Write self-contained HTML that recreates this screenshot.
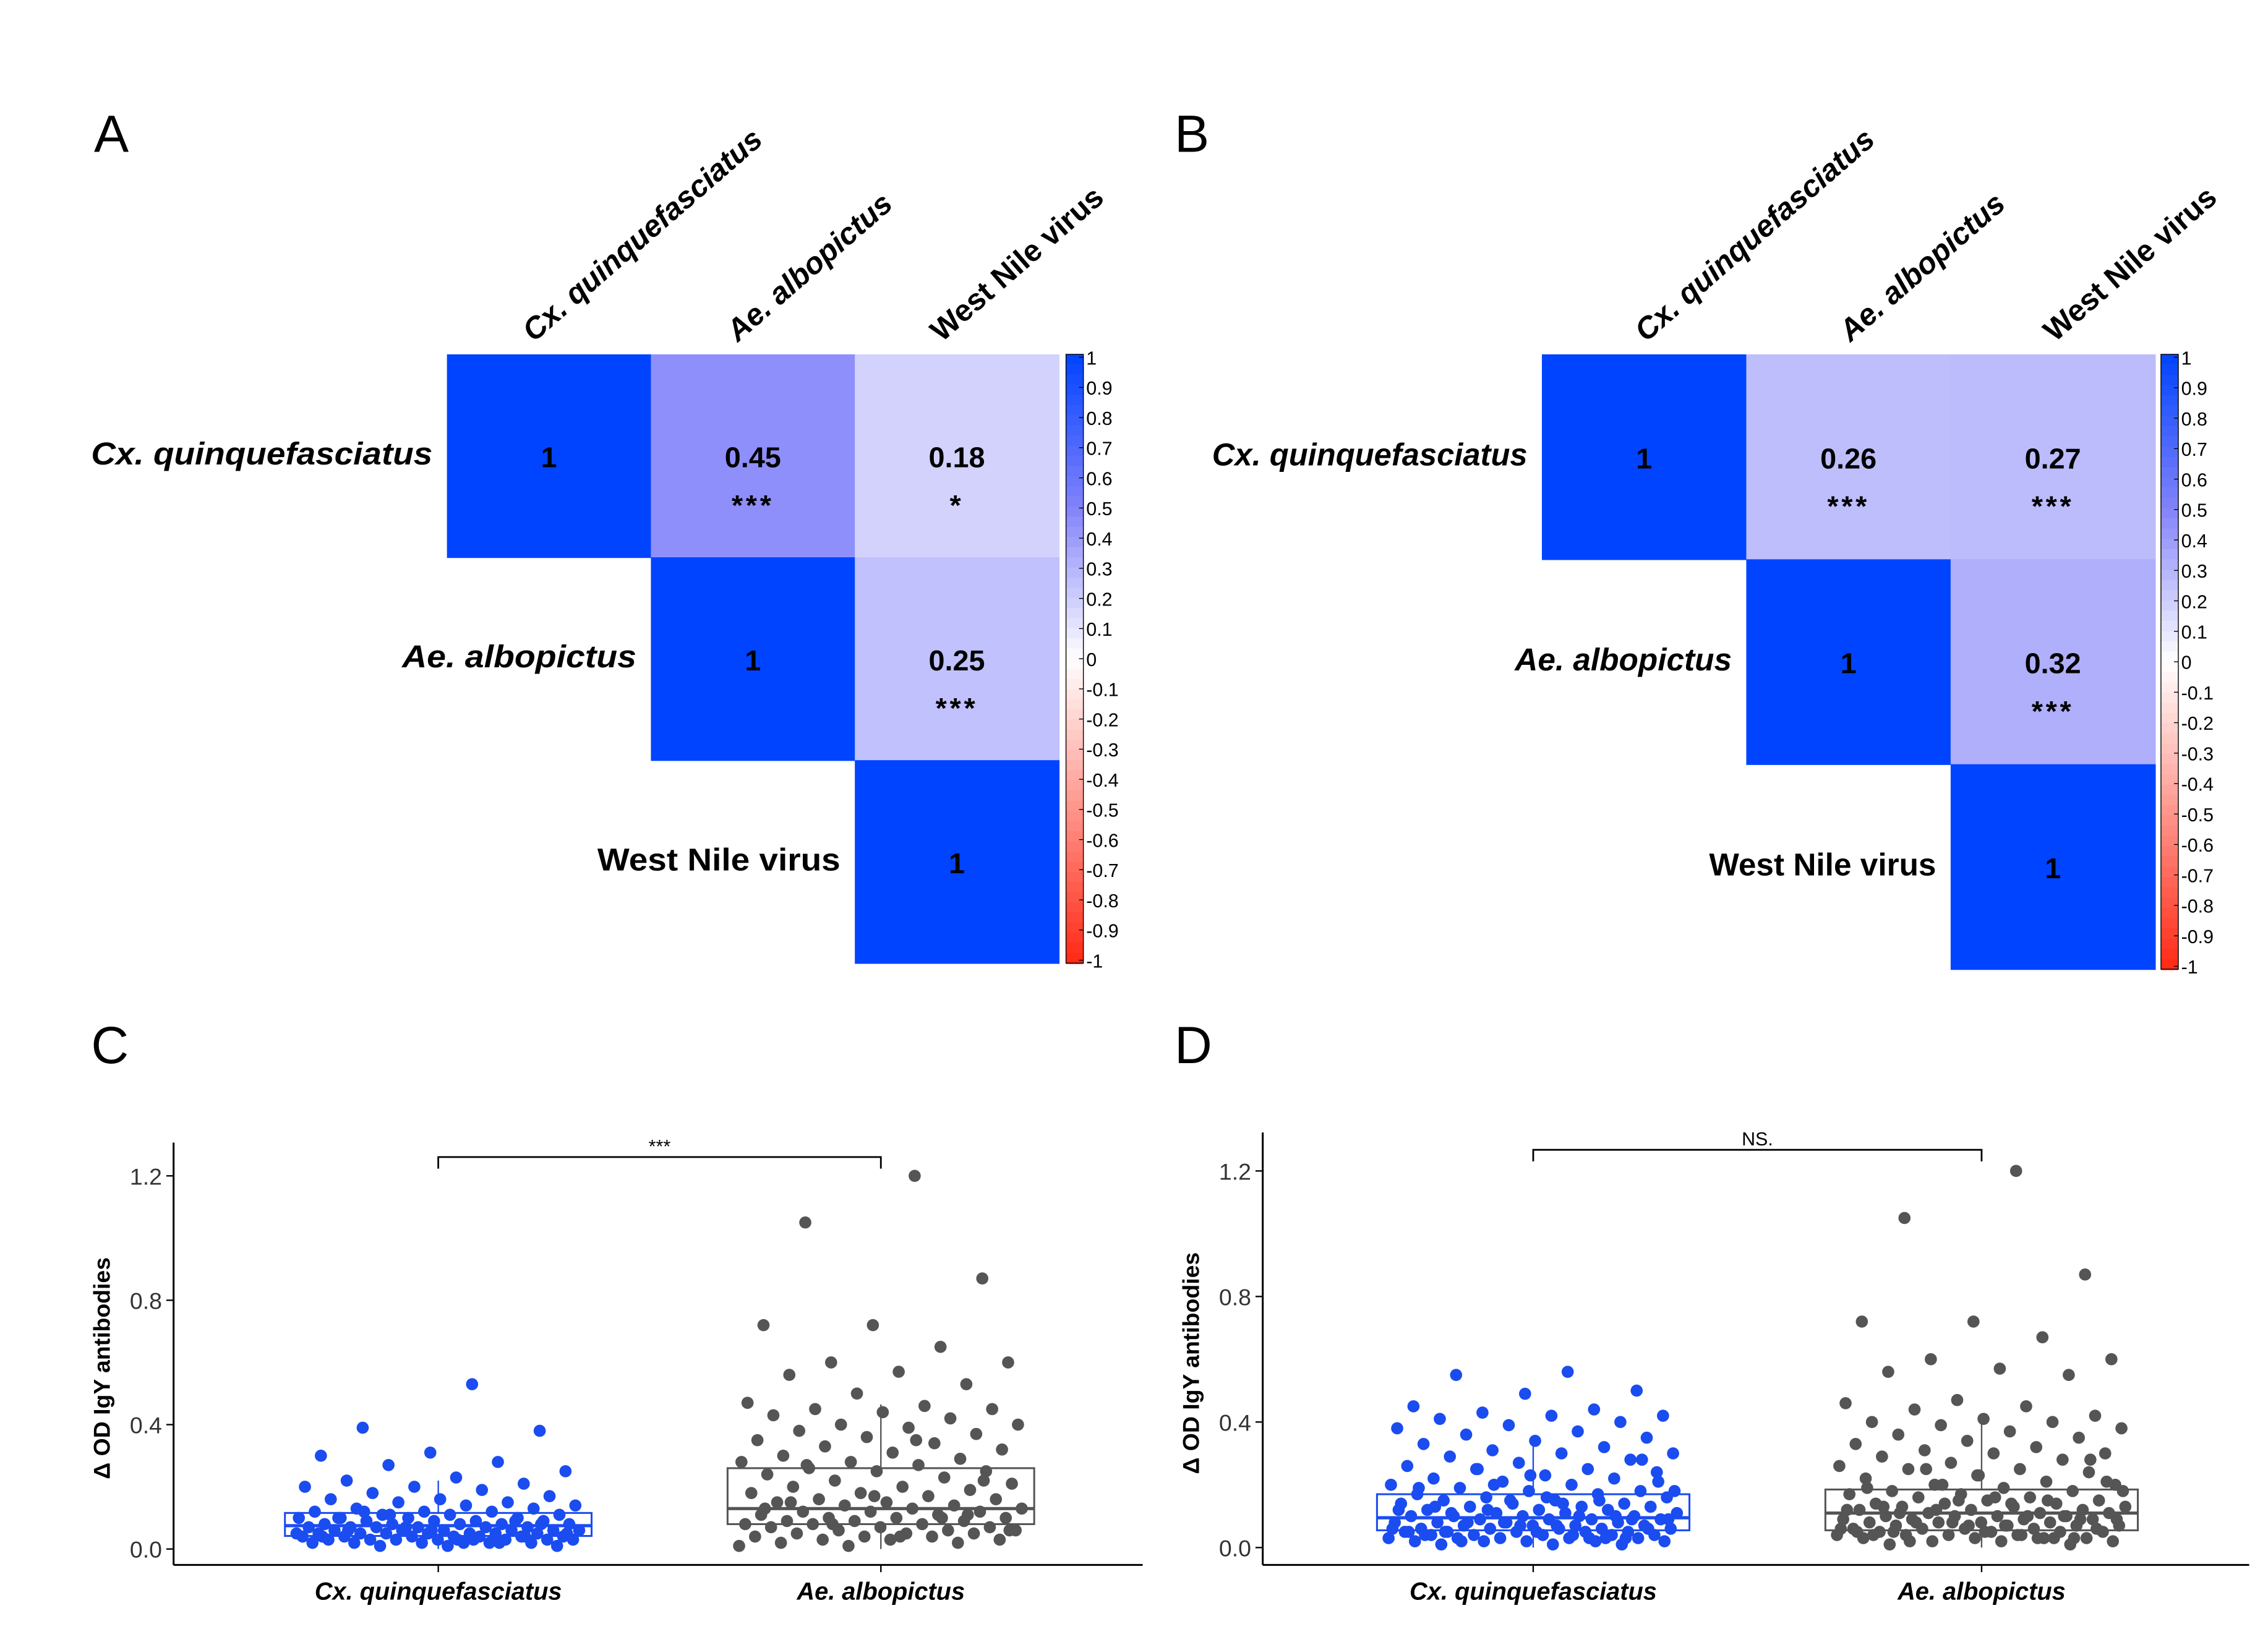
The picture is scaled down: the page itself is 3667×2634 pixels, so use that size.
<!DOCTYPE html>
<html><head><meta charset="utf-8"><style>
html,body{margin:0;padding:0;background:#fff;}
svg{display:block;font-family:"Liberation Sans",Arial,sans-serif;}
</style></head><body>
<svg id="fig" width="3667" height="2634" viewBox="0 0 1568 1126.3" xmlns="http://www.w3.org/2000/svg"></svg>
<script>
// ---------- DATA ----------
const species = ["Cx. quinquefasciatus","Ae. albopictus","West Nile virus"];
const corrA = [[1,0.45,0.18],[null,1,0.25],[null,null,1]];
const sigA  = [["","***","*"],["","","***"],["","",""]];
const corrB = [[1,0.26,0.27],[null,1,0.32],[null,null,1]];
const sigB  = [["","***","***"],["","","***"],["","",""]];
const cbTicks = ["1","0.9","0.8","0.7","0.6","0.5","0.4","0.3","0.2","0.1","0","-0.1","-0.2","-0.3","-0.4","-0.5","-0.6","-0.7","-0.8","-0.9","-1"];
const boxCats = ["Cx. quinquefasciatus","Ae. albopictus"];
const yTicks = [0.0,0.4,0.8,1.2];
// box stats: [lowWhisker, q1, median, q3, highWhisker]
const boxC = [[0.0,0.042,0.075,0.116,0.22],[0.0,0.08,0.13,0.26,0.465]];
const boxD = [[0.0,0.055,0.095,0.17,0.33],[0.0,0.055,0.11,0.185,0.41]];
const ptsC_cx = [0.53,0.39,0.38,0.31,0.3,0.28,0.27,0.25,0.23,0.22,0.21,0.2,0.2,0.19,0.18,0.17,0.16,0.16,0.15,0.15,0.14,0.14,0.13,0.13,0.12,0.12,0.12,0.11,0.11,0.11,0.1,0.1,0.1,0.1,0.09,0.09,0.09,0.09,0.08,0.08,0.08,0.08,0.08,0.07,0.07,0.07,0.07,0.07,0.07,0.06,0.06,0.06,0.06,0.06,0.06,0.05,0.05,0.05,0.05,0.05,0.05,0.05,0.04,0.04,0.04,0.04,0.04,0.04,0.04,0.03,0.03,0.03,0.03,0.03,0.03,0.03,0.02,0.02,0.02,0.02,0.02,0.02,0.01,0.01,0.01,0.1,0.09,0.07,0.05,0.03,0.12,0.08,0.06,0.04,0.02,0.11,0.05,0.03,0.06,0.04];
const ptsC_ae = [1.2,1.05,0.87,0.72,0.72,0.65,0.6,0.6,0.57,0.56,0.53,0.5,0.47,0.46,0.45,0.45,0.44,0.43,0.42,0.4,0.4,0.39,0.38,0.37,0.36,0.35,0.34,0.33,0.32,0.31,0.3,0.29,0.28,0.28,0.27,0.26,0.25,0.25,0.24,0.23,0.22,0.21,0.2,0.2,0.19,0.18,0.18,0.17,0.16,0.16,0.15,0.15,0.14,0.14,0.13,0.13,0.12,0.12,0.12,0.11,0.11,0.1,0.1,0.1,0.09,0.09,0.09,0.08,0.08,0.08,0.07,0.07,0.07,0.06,0.06,0.06,0.05,0.05,0.05,0.04,0.04,0.04,0.03,0.03,0.03,0.02,0.02,0.01,0.01,0.35,0.27,0.22,0.17,0.13,0.1,0.08,0.06,0.04,0.15,0.11];
const ptsD_cx = [0.56,0.55,0.5,0.49,0.45,0.44,0.43,0.42,0.42,0.41,0.4,0.39,0.38,0.37,0.36,0.35,0.34,0.33,0.32,0.31,0.3,0.3,0.29,0.28,0.27,0.26,0.25,0.25,0.24,0.23,0.22,0.22,0.21,0.2,0.2,0.19,0.18,0.18,0.17,0.17,0.16,0.16,0.15,0.15,0.14,0.14,0.14,0.13,0.13,0.13,0.12,0.12,0.12,0.11,0.11,0.11,0.1,0.1,0.1,0.1,0.09,0.09,0.09,0.09,0.08,0.08,0.08,0.08,0.07,0.07,0.07,0.07,0.06,0.06,0.06,0.06,0.06,0.05,0.05,0.05,0.05,0.05,0.04,0.04,0.04,0.04,0.04,0.03,0.03,0.03,0.03,0.03,0.02,0.02,0.02,0.02,0.02,0.01,0.01,0.01,0.15,0.12,0.1,0.08,0.06,0.05,0.04,0.03,0.2,0.18,0.14,0.11,0.09,0.07,0.05,0.03,0.25,0.21,0.16,0.13,0.1,0.08,0.06,0.04,0.02,0.28,0.23,0.19,0.15,0.12,0.09,0.07,0.05,0.03];
const ptsD_ae = [1.2,1.05,0.87,0.72,0.72,0.67,0.6,0.6,0.57,0.56,0.55,0.47,0.46,0.45,0.44,0.42,0.41,0.4,0.4,0.39,0.38,0.37,0.36,0.35,0.34,0.33,0.32,0.31,0.3,0.3,0.29,0.28,0.27,0.26,0.25,0.25,0.24,0.23,0.22,0.21,0.2,0.2,0.19,0.18,0.18,0.17,0.17,0.16,0.16,0.15,0.15,0.14,0.14,0.14,0.13,0.13,0.13,0.12,0.12,0.12,0.11,0.11,0.11,0.1,0.1,0.1,0.1,0.09,0.09,0.09,0.09,0.08,0.08,0.08,0.08,0.07,0.07,0.07,0.07,0.06,0.06,0.06,0.06,0.05,0.05,0.05,0.05,0.04,0.04,0.04,0.04,0.03,0.03,0.03,0.03,0.02,0.02,0.02,0.01,0.01,0.15,0.12,0.1,0.08,0.06,0.05,0.04,0.03,0.2,0.18,0.14,0.11,0.09,0.07,0.05,0.03,0.25,0.21,0.16,0.13,0.1,0.08,0.06,0.04,0.02,0.28,0.23,0.19,0.15,0.12,0.09,0.07,0.05,0.03];

// ---------- HELPERS ----------
const NS="http://www.w3.org/2000/svg";
const svg=document.getElementById('fig');
function mk(tag,attrs,parent,text){const e=document.createElementNS(NS,tag);for(const k in attrs)e.setAttribute(k,attrs[k]);if(text!==undefined)e.textContent=text;(parent||svg).appendChild(e);return e;}
function lerp(a,b,t){return Math.round(a+(b-a)*t);}
function corrColor(v){
  if(v>=0){let c0,c1,t;
    if(v<=0.5){c0=[255,255,255];c1=[130,130,250];t=v/0.5;}else{c0=[130,130,250];c1=[0,68,255];t=(v-0.5)/0.5;}
    return `rgb(${lerp(c0[0],c1[0],t)},${lerp(c0[1],c1[1],t)},${lerp(c0[2],c1[2],t)})`;}
  const t=-v;return `rgb(255,${lerp(255,40,t)},${lerp(255,20,t)})`;
}

// ---------- HEATMAPS ----------
function heatmap(name,letter,lx,x0,y0,cw,ch,corr,sig,cbx,colLabelOff,rowLens){
  const g=mk('g',{});
  
  
  const L=mk('text',{x:lx,y:105,'font-size':36},g,letter);
  
  
  for(let r=0;r<3;r++)for(let c=r;c<3;c++){
    const v=corr[r][c];
    const cell=mk('rect',{x:x0+c*cw,y:y0+r*ch,width:cw+0.5,height:ch+0.5,fill:corrColor(v)},g);
    
    
    const cx=x0+c*cw+cw/2, cy=y0+r*ch+ch/2;
    const t=mk('text',{x:cx,y:cy+8,'text-anchor':'middle','font-size':20,'font-weight':'bold'},g,String(v));
    
    
    if(sig[r][c]){const s=mk('text',{x:cx,y:cy+41,'text-anchor':'middle','font-size':20,'font-weight':'bold','letter-spacing':2},g,sig[r][c]);
      
      }
  }
  species.forEach((s,i)=>{
    const rl=mk('text',{x:x0+i*cw-10,y:y0+i*ch+ch/2+6,'text-anchor':'end','font-size':22,'font-weight':'bold','font-style':i<2?'italic':'normal','textLength':rowLens[i],'lengthAdjust':'spacingAndGlyphs'},g,s);
    
    
    const ax=x0+i*cw+colLabelOff, ay=y0-8;
    const cl=mk('text',{x:ax,y:ay,'font-size':21,'font-weight':'bold','font-style':i<2?'italic':'normal',transform:`rotate(-41 ${ax} ${ay})`},g,s);
    
    
  });
  // colorbar
  const H=ch*3, N=60;
  for(let k=0;k<N;k++){
    const v=1-2*(k+0.5)/N;
    mk('rect',{x:cbx,y:y0+k*H/N,width:12,height:H/N+0.6,fill:corrColor(v)},g);
  }
  const cbb=mk('rect',{x:cbx,y:y0,width:12,height:H,fill:'none',stroke:'#000','stroke-width':0.6},g);
  
  
  cbTicks.forEach((t,i)=>{
    const yy=y0+2+i*(H-4)/20;
    mk('line',{x1:cbx+9,x2:cbx+12,y1:yy,y2:yy,stroke:'#000','stroke-width':0.6},g);
    const tl=mk('text',{x:cbx+14,y:yy+5,'font-size':13},g,t);
    
    
  });
}
heatmap('heatmap-a','A',65,309,245,141,140.3,corrA,sigA,737,60,[236,162,168]);
heatmap('heatmap-b','B',812,1066,245,141.3,141.7,corrB,sigB,1494,72,[218,150,157]);

// ---------- BOXPLOTS ----------
function boxplot(name,letter,lx,ly,ax0,ax1,ytop,ybase,y0px,pxPer,catX,boxW,stats,pts,sigText,brY,colors){
  const g=mk('g',{});
  
  
  const L=mk('text',{x:lx,y:ly,'font-size':36},g,letter);
  
  
  const Y=v=>y0px-v*pxPer;
  const yax=mk('line',{x1:ax0,x2:ax0,y1:ytop,y2:ybase,stroke:'#000','stroke-width':1.3},g);
  
  
  const xax=mk('line',{x1:ax0,x2:ax1,y1:ybase,y2:ybase,stroke:'#000','stroke-width':1.3},g);
  
  
  yTicks.forEach(t=>{
    mk('line',{x1:ax0-5,x2:ax0,y1:Y(t),y2:Y(t),stroke:'#000','stroke-width':1},g);
    const tl=mk('text',{x:ax0-8,y:Y(t)+6,'text-anchor':'end','font-size':16,fill:'#333'},g,t.toFixed(1));
    
    
  });
  const ytx=ax0-44, yty=(ytop+ybase)/2+10;
  const yt=mk('text',{x:ytx,y:yty,'text-anchor':'middle','font-size':16,'font-weight':'bold',transform:`rotate(-90 ${ytx} ${yty})`},g,'Δ OD IgY antibodies');
  
  
  boxCats.forEach((c,i)=>{
    const cx=catX[i];
    mk('line',{x1:cx,x2:cx,y1:ybase,y2:ybase+5,stroke:'#000'},g);
    const xl=mk('text',{x:cx,y:ybase+24,'text-anchor':'middle','font-size':17,'font-weight':'bold','font-style':'italic'},g,c);
    
    
    const s=stats[i], col=colors[i];
    const bg=mk('g',{},g);
    
    
    mk('line',{x1:cx,x2:cx,y1:Y(s[4]),y2:Y(s[3]),stroke:col,'stroke-width':1},bg);
    mk('line',{x1:cx,x2:cx,y1:Y(s[1]),y2:Y(s[0]),stroke:col,'stroke-width':1},bg);
    mk('rect',{x:cx-boxW/2,y:Y(s[3]),width:boxW,height:Y(s[1])-Y(s[3]),fill:'none',stroke:col,'stroke-width':1.3},bg);
    mk('line',{x1:cx-boxW/2,x2:cx+boxW/2,y1:Y(s[2]),y2:Y(s[2]),stroke:col,'stroke-width':2.2},bg);
    const pg=mk('g',{fill:i===0?'#1a4cf0':'#555'},g);
    
    
    pts[i].forEach((v,k)=>{
      const u=((k+1)*0.6180339887)%1;
      const j=(u-0.5)*(boxW-14);
      const p=mk('circle',{cx:cx+j,cy:Y(v),r:4.2},pg);
      
      
    });
  });
  const br=mk('path',{d:`M${catX[0]},${brY+8}V${brY}H${catX[1]}V${brY+8}`,fill:'none',stroke:'#000','stroke-width':1.2},g);
  
  
  const st=mk('text',{x:(catX[0]+catX[1])/2,y:brY-3,'text-anchor':'middle','font-size':13},g,sigText);
  
  
}
boxplot('boxplot-c','C',63,735,120,790,790,1082,1071,215,[303,609],212,boxC,[ptsC_cx,ptsC_ae],'***',800,['#1a4cf0','#555']);
boxplot('boxplot-d','D',812,735,873,1555,783,1082,1070,217,[1060,1370],216,boxD,[ptsD_cx,ptsD_ae],'NS.',795,['#1a4cf0','#555']);
</script>
</body></html>
